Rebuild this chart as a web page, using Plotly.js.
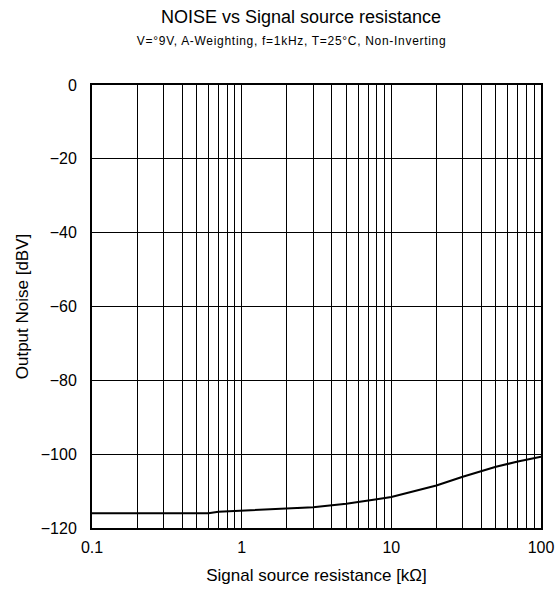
<!DOCTYPE html>
<html><head><meta charset="utf-8">
<script src="https://cdn.plot.ly/plotly-3.0.1.min.js"></script>
<style>html,body{margin:0;padding:0;background:#fff}#chart{width:557px;height:593px}
#chart g.annotation[data-index="1"] text{letter-spacing:0.7px}</style>
</head><body><div id="chart"></div>
<script>
const resistanceK = [0.1, 0.6, 0.7, 1, 2, 3, 5, 6, 8, 10, 20, 30, 50, 70, 100];
const noiseDbv = [-116, -116, -115.6, -115.3, -114.9, -114.4, -113.4, -113, -112.2, -111.6, -108.5, -106.1, -103.4, -102, -100.7];
const xTickVals = [0.1, 1, 10, 100];
const xTickText = ['0.1', '1', '10', '100'];
const yTickVals = [0, -20, -40, -60, -80, -100, -120];
const titleText = 'NOISE vs Signal source resistance';
const subtitleText = 'V=°9V, A-Weighting, f=1kHz, T=25°C, Non-Inverting';
const xTitle = 'Signal source resistance [kΩ]';
const yTitle = 'Output Noise [dBV]';

const font = 'Liberation Sans, Arial, sans-serif';
const data = [{
  x: resistanceK, y: noiseDbv, type: 'scatter', mode: 'lines',
  line: {color: '#000', width: 2}, hoverinfo: 'skip', showlegend: false
}];
const plotH = 593 - 85 - 65;
const layout = {
  width: 557, height: 593,
  margin: {l: 92, r: 16, t: 85, b: 65},
  paper_bgcolor: '#fff', plot_bgcolor: '#fff',
  font: {family: font, color: '#000', size: 16},
  xaxis: {
    type: 'log', range: [-1, 2],
    tickvals: xTickVals, ticktext: xTickText, ticks: '',
    ticklabelstandoff: 4,
    showgrid: true, gridcolor: '#000', gridwidth: 1,
    minor: {showgrid: true, gridcolor: '#000', gridwidth: 1, dtick: 'D1', ticks: ''},
    showline: true, linecolor: '#000', linewidth: 2, mirror: true,
    zeroline: false,
    title: {text: xTitle, font: {size: 17}, standoff: 14},
    tickfont: {size: 16}
  },
  yaxis: {
    range: [-120, 0], tickvals: yTickVals, ticks: '',
    ticklabelstandoff: 10,
    showgrid: true, gridcolor: '#000', gridwidth: 1,
    showline: true, linecolor: '#000', linewidth: 2, mirror: true,
    zeroline: false,
    title: {text: yTitle, font: {size: 17}, standoff: 8},
    tickfont: {size: 16}
  },
  annotations: [
    {text: titleText, xref: 'paper', yref: 'paper', x: 0.465, y: 1 + (85 - 17) / plotH,
     showarrow: false, font: {size: 18}, xanchor: 'center', yanchor: 'middle'},
    {text: subtitleText, xref: 'paper', yref: 'paper', x: 0.445, y: 1 + (85 - 41) / plotH,
     showarrow: false, font: {size: 12}, xanchor: 'center', yanchor: 'middle'}
  ]
};
Plotly.newPlot('chart', data, layout, {staticPlot: true, displayModeBar: false});
</script></body></html>
